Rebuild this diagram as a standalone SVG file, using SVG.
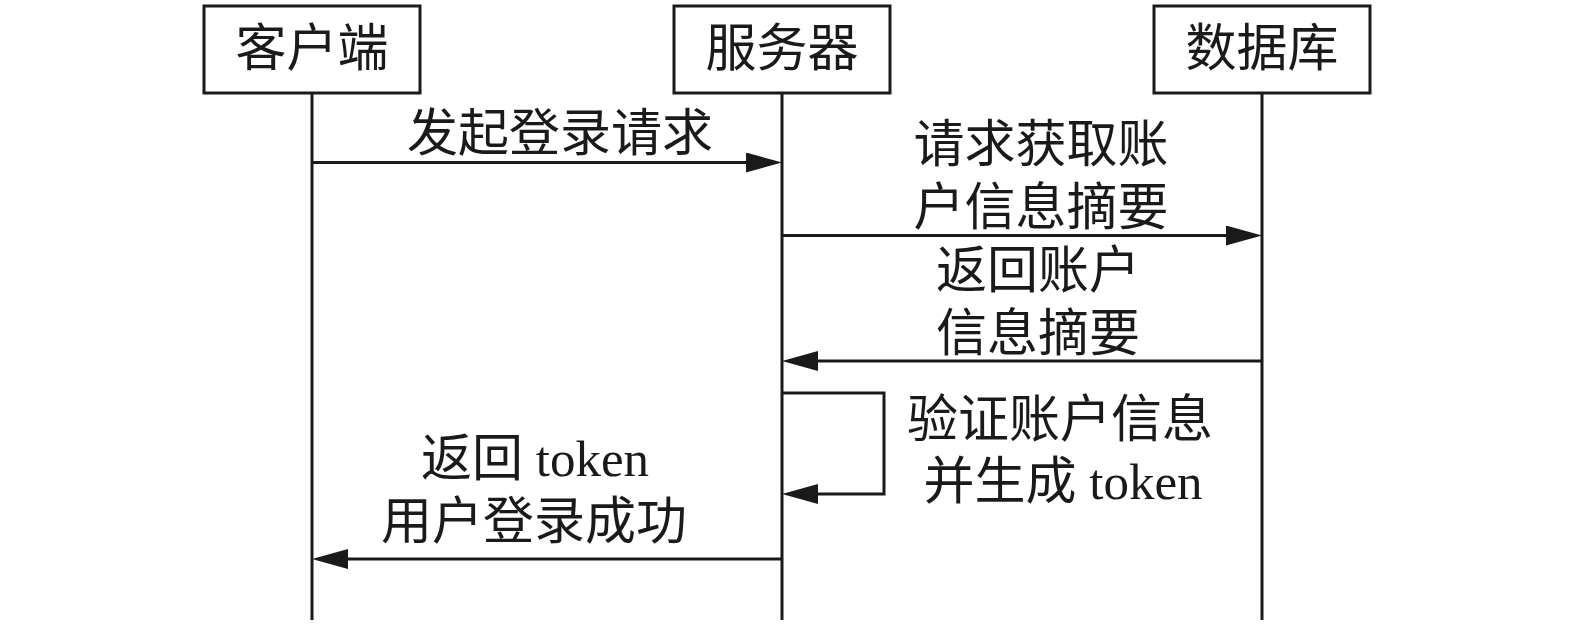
<svg xmlns="http://www.w3.org/2000/svg" width="1575" height="624" viewBox="0 0 1575 624">
<style>
.box{fill:#fff;stroke:#1a1a1a;stroke-width:3}
.life{stroke:#1a1a1a;stroke-width:3;fill:none}
.msg{stroke:#1a1a1a;stroke-width:3;fill:none;marker-end:url(#ah)}
text{font-family:"Liberation Serif","Noto Sans CJK SC",serif;font-size:51px;fill:#1a1a1a;text-anchor:middle}
</style>
<defs>
<marker id="ah" markerUnits="userSpaceOnUse" markerWidth="36" markerHeight="20" viewBox="0 0 36 20" refX="26" refY="10" orient="auto">
<path d="M0,0 L36,10 L0,20 Z" fill="#1a1a1a"/>
</marker>
</defs>
<rect width="1575" height="624" fill="#fff"/>
<g id="client">
<rect class="box" x="204" y="6" width="216" height="87"/>
<text x="312" y="66">客户端</text>
</g>
<g id="server">
<rect class="box" x="674" y="6" width="216" height="87"/>
<text x="782" y="66">服务器</text>
</g>
<g id="database">
<rect class="box" x="1154" y="6" width="216" height="87"/>
<text x="1262" y="66">数据库</text>
</g>
<g id="connectors">
<line class="life" x1="312" y1="93" x2="312" y2="620"/>
<line class="life" x1="782" y1="93" x2="782" y2="620"/>
<line class="life" x1="1262" y1="93" x2="1262" y2="620"/>
<path class="msg" d="M312,162.5 H772"/>
<path class="msg" d="M782,235.5 H1252"/>
<path class="msg" d="M1262,361 H792"/>
<path class="msg" d="M782,393 H884 V494 H792"/>
<path class="msg" d="M782,559 H322"/>
</g>
<g id="labels">
<text x="560" y="151">发起登录请求</text>
<text x="1041" y="162">请求获取账</text>
<text x="1041" y="225">户信息摘要</text>
<text x="1038" y="288">返回账户</text>
<text x="1038" y="351">信息摘要</text>
<text x="1060" y="437">验证账户信息</text>
<text x="1063" y="499">并生成 token</text>
<text x="535" y="476">返回 token</text>
<text x="534" y="539">用户登录成功</text>
</g>
</svg>
